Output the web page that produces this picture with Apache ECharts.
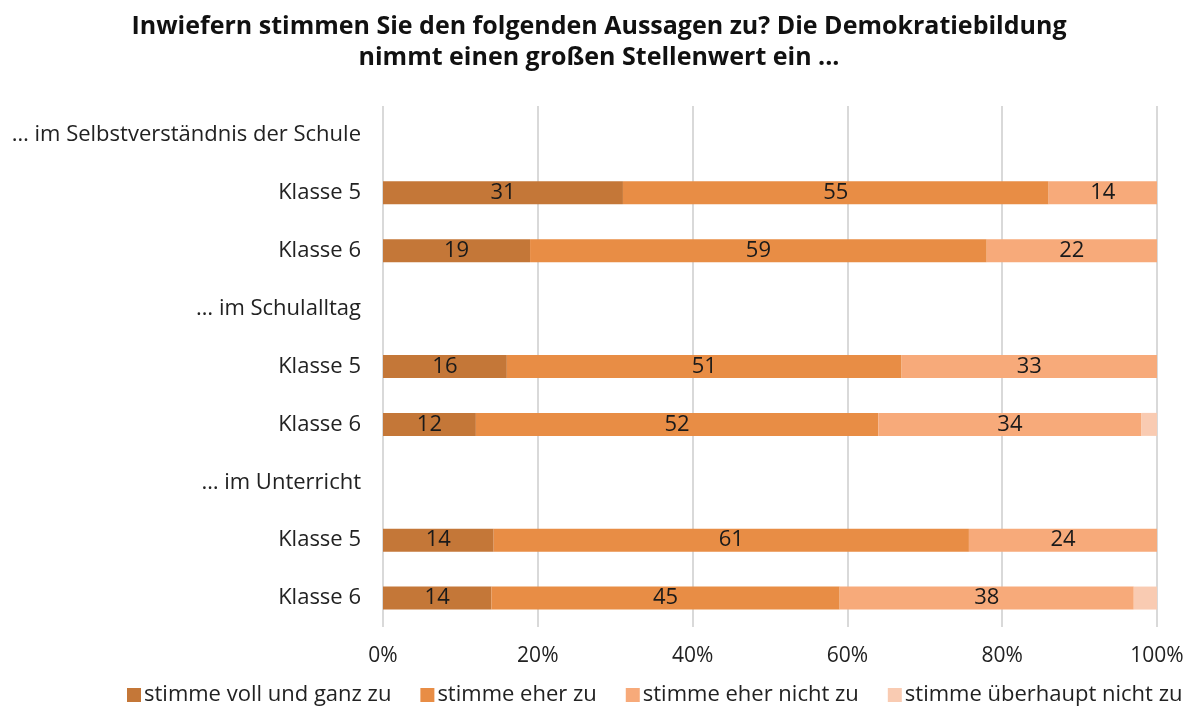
<!DOCTYPE html>
<html>
<head>
<meta charset="utf-8">
<script src="https://cdn.jsdelivr.net/npm/echarts@6/dist/echarts.min.js"></script>
<style>
  html, body { margin: 0; padding: 0; background: #fff; }
  #chart { width: 1198px; height: 711px; }
</style>
</head>
<body>
<div id="chart"></div>
<script>
// Kategorien (von oben nach unten)
var categories = [
  '… im Selbstverständnis der Schule', 'Klasse 5', 'Klasse 6',
  '… im Schulalltag', 'Klasse 5', 'Klasse 6',
  '… im Unterricht', 'Klasse 5', 'Klasse 6'
];
var seriesNames = ['stimme voll und ganz zu', 'stimme eher zu', 'stimme eher nicht zu', 'stimme überhaupt nicht zu'];
// Werte in Prozent, Überschriftszeilen leer
var vollUndGanz = ['-', 31, 19, '-', 16, 12, '-', 14.3, 14];
var eherZu = ['-', 55, 59, '-', 51, 52, '-', 61.4, 45];
var eherNicht = ['-', 14, 22, '-', 33, 34, '-', 24.3, 38];
var ueberhauptNicht = ['-', 0, 0, '-', 0, 2, '-', 0, 3];
var xTicks = [0, 20, 40, 60, 80, 100];

var colors = ['#C47738', '#E88D45', '#F7AA7A', '#F9CBB2'];
var fontFamily = '"Open Sans", "Noto Sans", sans-serif';

var chart = echarts.init(document.getElementById('chart'));

function makeSeries (name, data, showLabel) {
  return {
    name: name,
    type: 'bar',
    stack: 'total',
    barWidth: 23,
    data: data,
    label: {
      show: showLabel,
      position: 'inside',
      color: '#1a1a1a',
      fontSize: 22,
      fontFamily: fontFamily,
      formatter: function (p) {
        return Math.round(p.value);
      }
    }
  };
}

var option = {
  color: colors,
  animation: false,
  textStyle: { fontFamily: fontFamily },
  title: {
    text: 'Inwiefern stimmen Sie den folgenden Aussagen zu? Die Demokratiebildung\nnimmt einen großen Stellenwert ein ...',
    left: 'center',
    top: 6,
    textStyle: {
      fontSize: 25,
      fontWeight: 'bold',
      color: '#111',
      lineHeight: 31,
      fontFamily: fontFamily
    }
  },
  legend: {
    bottom: 0,
    left: 122,
    itemWidth: 14,
    itemHeight: 14,
    itemGap: 29,
    icon: 'rect',
    textStyle: { fontSize: 22, color: '#222', fontFamily: fontFamily, padding: [0, 0, 0, -2] },
    data: seriesNames
  },
  grid: {
    left: 383,
    right: 41,
    top: 106,
    bottom: 84
  },
  xAxis: {
    type: 'value',
    min: 0,
    max: 100,
    interval: 20,
    axisLine: { show: false },
    axisTick: { show: false },
    splitLine: { lineStyle: { color: '#D9D9D9', width: 2 } },
    axisLabel: {
      fontSize: 21,
      color: '#222',
      margin: 19,
      formatter: function (v) {
        return xTicks.indexOf(v) >= 0 ? v + '%' : '';
      }
    }
  },
  yAxis: {
    type: 'category',
    inverse: true,
    data: categories,
    axisLine: { show: false },
    axisTick: { show: false },
    axisLabel: { fontSize: 22, color: '#222', margin: 22 }
  },
  series: [
    makeSeries(seriesNames[0], vollUndGanz, true),
    makeSeries(seriesNames[1], eherZu, true),
    makeSeries(seriesNames[2], eherNicht, true),
    makeSeries(seriesNames[3], ueberhauptNicht, false)
  ]
};

chart.setOption(option);
window.addEventListener('resize', function () { chart.resize(); });
</script>
</body>
</html>
